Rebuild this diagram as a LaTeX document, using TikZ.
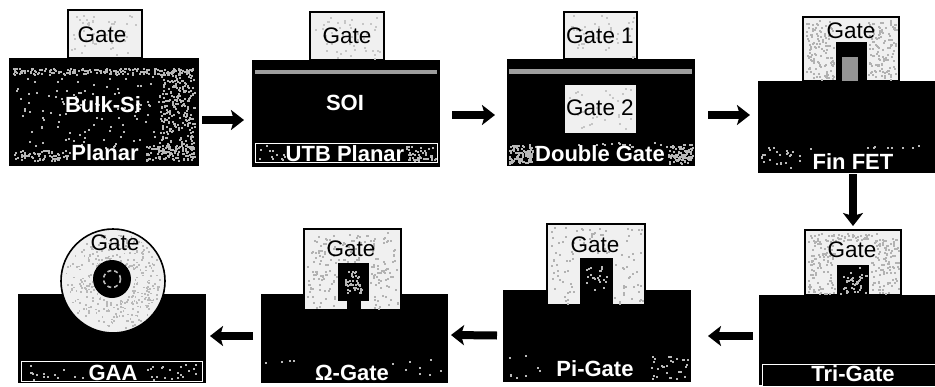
\documentclass[tikz,border=0pt]{standalone}
\usepackage{fontspec}
\setmainfont{Liberation Sans}
\usetikzlibrary{arrows.meta}
\definecolor{gatecol}{gray}{0.94}
\definecolor{fincol}{gray}{0.58}
\definecolor{stripcol}{gray}{0.62}
\definecolor{speckw}{gray}{0.72}
\tikzset{
  x=1pt,y=-1pt,
  blk/.style={fill=black,draw=black,inner sep=0pt,outer sep=0pt,line width=0.8pt},
  gatebox/.style={fill=gatecol,draw=black,inner sep=0pt,outer sep=0pt,line width=1.6pt},
  whitebox/.style={fill=gatecol,draw=none,inner sep=0pt,outer sep=0pt},
  finbox/.style={fill=fincol,draw=none,inner sep=0pt,outer sep=0pt},
  stripbox/.style={fill=stripcol,draw=none,inner sep=0pt,outer sep=0pt},
  darkstrip/.style={fill=black,draw=white,inner sep=0pt,outer sep=0pt,line width=0.9pt},
  gtxt/.style={text=black,font=\fontsize{22.5}{22.5}\selectfont,inner sep=0pt},
  wtxt/.style={text=white,font=\fontsize{22}{22}\selectfont\bfseries,inner sep=0pt},
  flow/.style={draw=black,line width=8pt,-{Stealth[length=13pt,width=20pt,inset=3pt]}},
}
\newcommand{\boxat}[6]{%
  \pgfmathsetmacro\bw{#4-#2}\pgfmathsetmacro\bh{#5-#3}%
  \pgfmathsetmacro\bx{(#4+#2)/2}\pgfmathsetmacro\by{(#5+#3)/2}%
  \node[#6,minimum width=\bw pt,minimum height=\bh pt] (#1) at (\bx,\by) {};}
\newcommand{\speck}[6]{%
  \foreach \i in {1,...,#5}{%
    \pgfmathsetmacro\sx{#1+rnd*(#3-#1)}\pgfmathsetmacro\sy{#2+rnd*(#4-#2)}%
    \fill[#6] (\sx,\sy) rectangle ++(2,2);}}
\begin{document}
\begin{tikzpicture}
\useasboundingbox (0,0) rectangle (935,386);
\fill[white] (0,0) rectangle (935,386);
\pgfmathsetseed{11}
% ---- panel 1
\boxat{gA}{68}{10}{142}{58}{gatebox}
\speck{71}{13}{139}{56}{50}{gray!45}
\boxat{bA}{9}{58}{198}{165}{blk}
\speck{13}{68}{194}{74}{190}{speckw}
\speck{13}{150}{70}{160}{70}{speckw}
\speck{145}{145}{194}{160}{110}{speckw}
\speck{160}{68}{194}{150}{260}{speckw}
\speck{13}{74}{160}{148}{110}{speckw}
\node[gtxt] (tA) at (102,35) {Gate};
\node[wtxt] (uA) at (103,105) {Bulk-Si};
\node[wtxt] (vA) at (105,153) {Planar};
% ---- panel 2
\boxat{gB}{310}{12}{384}{60}{gatebox}
\speck{313}{15}{381}{58}{50}{gray!45}
\boxat{bB}{252}{60}{439}{166}{blk}
\boxat{lB}{255}{70}{437}{74}{stripbox}
\boxat{sB}{255}{143}{437}{162}{darkstrip}
\speck{257}{145}{285}{160}{12}{speckw}
\speck{405}{145}{435}{160}{50}{speckw}
\node[gtxt] (tB) at (347,36) {Gate};
\node[wtxt] (uB) at (345,103) {SOI};
\node[wtxt] (vB) at (345,154) {UTB Planar};
% ---- panel 3
\boxat{gC}{564}{12}{637}{59}{gatebox}
\speck{567}{15}{634}{57}{40}{gray!45}
\boxat{bC}{507}{59}{694}{165}{blk}
\boxat{lC}{509}{69}{692}{74}{stripbox}
\boxat{hC}{565}{85}{636}{133}{whitebox}
\speck{567}{87}{634}{131}{28}{gray!45}
\speck{509}{144}{532}{163}{110}{speckw}
\speck{668}{144}{692}{163}{110}{speckw}
\speck{532}{142}{668}{146}{16}{speckw}
\node[gtxt] (tC) at (600,36) {Gate 1};
\node[gtxt] (uC) at (600,108) {Gate 2};
\node[wtxt] (vC) at (600,154) {Double Gate};
% ---- panel 4
\boxat{gD}{803}{17}{899}{81}{gatebox}
\speck{806}{20}{834}{79}{120}{gray!60}
\speck{868}{20}{896}{79}{120}{gray!60}
\boxat{hD}{836}{42}{866}{81}{blk}
\boxat{fD}{842}{57}{858}{81}{finbox}
\boxat{bD}{758}{81}{935}{172}{blk}
\speck{760}{146}{800}{168}{24}{speckw}
\speck{800}{145}{925}{148}{10}{speckw}
\node[gtxt] (tD) at (851,31) {Gate};
\node[wtxt] (vD) at (853,162) {Fin FET};
% ---- panel 5
\boxat{gE}{805}{230}{901}{295}{gatebox}
\speck{808}{233}{835}{293}{110}{gray!60}
\speck{870}{233}{898}{293}{110}{gray!60}
\speck{835}{233}{870}{240}{40}{gray!60}
\boxat{hE}{837}{265}{868}{295}{blk}
\speck{839}{267}{866}{294}{45}{speckw}
\boxat{bE}{759}{295}{935}{384}{blk}
\boxat{sE}{762}{364}{936}{386}{darkstrip}
\node[gtxt] (tE) at (852,250) {Gate};
\node[wtxt] (vE) at (853,374) {Tri-Gate};
% ---- panel 6
\boxat{bF}{503}{290}{690}{381}{blk}
\boxat{gF}{547}{224}{645}{305}{gatebox}
\speck{550}{227}{642}{256}{50}{gray!60}
\speck{550}{256}{578}{303}{25}{gray!60}
\speck{614}{256}{642}{303}{25}{gray!60}
\boxat{hF}{580}{258}{612}{305}{blk}
\speck{586}{265}{606}{290}{22}{speckw}
\speck{506}{355}{540}{379}{8}{speckw}
\speck{650}{355}{688}{379}{30}{speckw}
\node[gtxt] (tF) at (595,245) {Gate};
\node[wtxt] (vF) at (595,369) {Pi-Gate};
% ---- panel 7
\boxat{bG}{261}{294}{447}{382}{blk}
\boxat{gG}{304}{229}{401}{310}{gatebox}
\speck{307}{232}{398}{262}{90}{gray!60}
\speck{307}{262}{336}{308}{50}{gray!60}
\speck{370}{262}{398}{308}{50}{gray!60}
\boxat{hG}{338}{263}{368}{300}{blk}
\boxat{nG}{347}{300}{360}{312}{blk}
\speck{345}{270}{361}{294}{50}{speckw}
\speck{264}{358}{300}{362}{4}{speckw}
\speck{385}{358}{445}{378}{8}{speckw}
\node[gtxt] (tG) at (351,249) {Gate};
\node[wtxt] (vG) at (352,373) {Ω-Gate};
% ---- panel 8
\boxat{bH}{18}{294}{205}{382}{blk}
\boxat{sH}{21}{361}{202}{381}{darkstrip}
\speck{23}{363}{85}{379}{14}{speckw}
\speck{145}{363}{200}{379}{22}{speckw}
\node[circle,fill=gatecol,draw=black,line width=1.6pt,minimum size=104pt,inner sep=0pt,outer sep=0pt] (gH) at (113,281) {};
\foreach \i in {1,...,320}{%
  \pgfmathsetmacro\ang{rnd*360}\pgfmathsetmacro\rad{20+rnd*29}%
  \fill[gray!55] ({113+\rad*cos(\ang)},{281+\rad*sin(\ang)}) rectangle ++(1.8,1.8);}
\node[circle,fill=black,minimum size=38pt,inner sep=0pt,outer sep=0pt] (hH) at (112,279) {};
\node[circle,draw=speckw,dash pattern=on 4pt off 3pt,line width=1.6pt,minimum size=17pt,inner sep=0pt] (fH) at (112,279) {};
\node[gtxt] (tH) at (115,243) {Gate};
\node[wtxt] (vH) at (113,373) {GAA};
% ---- connectors
\draw[flow] ([xshift=4pt,yshift=-8.5pt]bA.east) -- ([xshift=-8pt,yshift=-7pt]bB.west);
\draw[flow] ([xshift=13pt,yshift=-2pt]bB.east) -- ([xshift=-12pt,yshift=-3pt]bC.west);
\draw[flow] ([xshift=14pt,yshift=-3pt]bC.east) -- ([xshift=-8pt,yshift=11.5pt]bD.west);
\draw[flow] ([xshift=6.5pt,yshift=-2pt]bD.south) -- ([yshift=4pt]gE.north);
\draw[flow] ([xshift=-6pt,yshift=3.5pt]bE.west) -- ([xshift=18pt,yshift=-0.5pt]bF.east);
\draw[flow] ([xshift=-6pt]bF.west) -- ([xshift=4pt,yshift=3pt]bG.east);
\draw[flow] ([xshift=-8pt,yshift=2pt]bG.west) -- ([xshift=5pt,yshift=2pt]bH.east);
\end{tikzpicture}
\end{document}
